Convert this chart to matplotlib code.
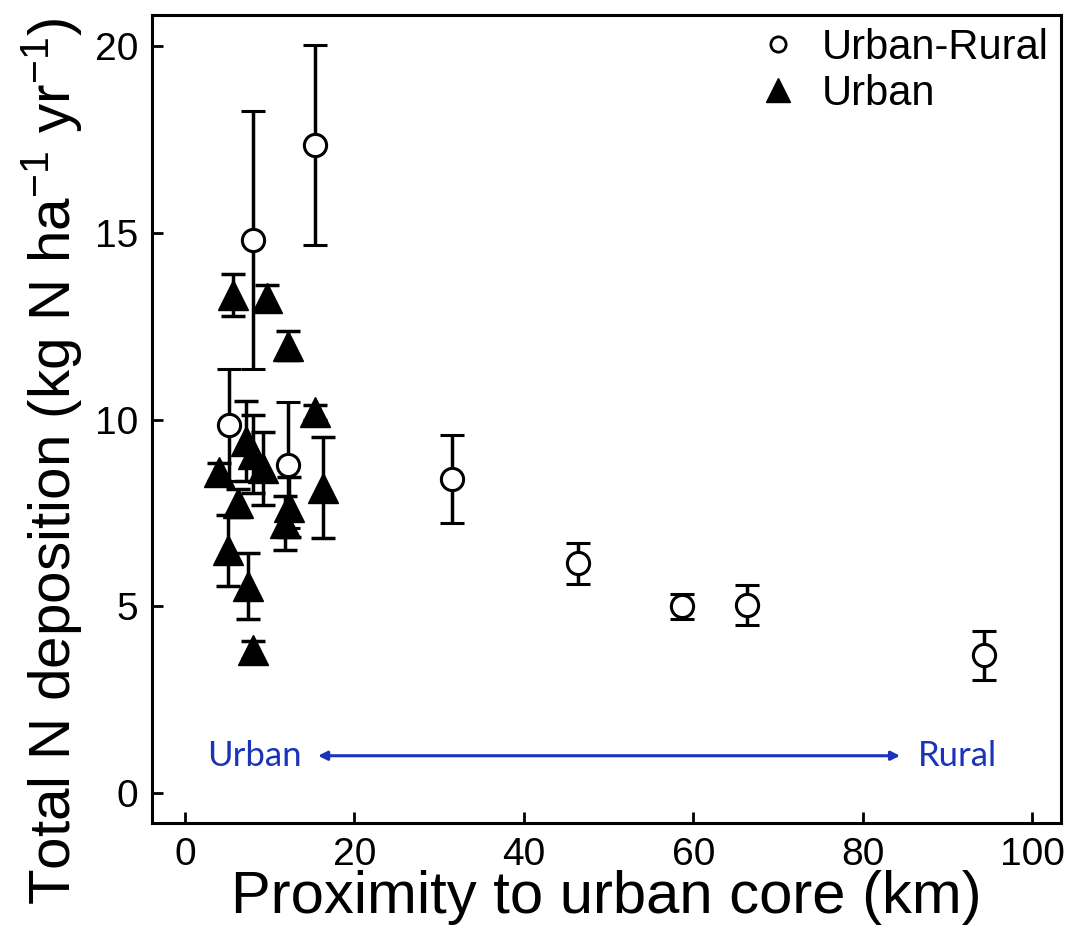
import matplotlib
matplotlib.use('Agg')
import matplotlib.pyplot as plt
from matplotlib.lines import Line2D

plt.rcParams['font.family'] = ['Liberation Sans', 'DejaVu Sans']
plt.rcParams['mathtext.fontset'] = 'custom'
plt.rcParams['mathtext.rm'] = 'Liberation Sans'
plt.rcParams['mathtext.it'] = 'Liberation Sans:italic'
plt.rcParams['mathtext.bf'] = 'Liberation Sans:bold'

# Urban-Rural sites (open circles)
ur_dist = [5.2, 8.0, 15.3, 12.2, 31.5, 46.4, 58.6, 66.3, 94.3]
ur_dep = [9.85, 14.8, 17.36, 8.78, 8.40, 6.15, 5.00, 5.03, 3.69]
ur_err = [1.50, 3.45, 2.68, 1.69, 1.18, 0.54, 0.33, 0.53, 0.65]

# Urban sites (filled triangles)
u_dist = [5.7, 9.7, 12.2, 15.3, 16.3, 4.0, 6.3, 5.1, 7.4, 8.0, 12.3, 11.8, 7.2, 8.0, 9.2]
u_dep = [13.33, 13.25, 11.98, 10.2, 8.18, 8.6, 7.76, 6.5, 5.54, 3.83, 7.66, 7.23, 9.42, 9.08, 8.69]
u_err = [0.57, 0.35, 0.39, 0.2, 1.35, 0.25, 0.38, 0.95, 0.88, 0.25, 0.8, 0.72, 1.07, 1.04, 0.98]

x_ticks = [0, 20, 40, 60, 80, 100]
y_ticks = [0, 5, 10, 15, 20]

fig = plt.figure(figsize=(10.72, 9.5), dpi=100)
ax = fig.add_axes([0.1418, 0.1337, 0.848, 0.8505])

ax.errorbar(ur_dist, ur_dep, yerr=ur_err, fmt='o', ms=16, mfc='white', mec='black',
            mew=2.2, ecolor='black', elinewidth=2.5, capsize=8.5, capthick=2.5, zorder=3)
ax.errorbar(u_dist, u_dep, yerr=u_err, fmt='^', ms=21, color='black',
            ecolor='black', elinewidth=2.5, capsize=8.5, capthick=2.5, zorder=4)

# urban -> rural gradient arrow
blue = '#1a33bb'
ax.annotate('', xy=(84.4, 1.0), xytext=(15.7, 1.0),
            arrowprops=dict(arrowstyle='<|-|>', color=blue, lw=2.2, mutation_scale=13,
                            shrinkA=0, shrinkB=0))
ax.text(2.6, 1.0, 'Urban', color=blue, fontsize=25, family=['Lato', 'DejaVu Sans'],
        ha='left', va='center')
ax.text(86.5, 1.0, 'Rural', color=blue, fontsize=25, family=['Lato', 'DejaVu Sans'],
        ha='left', va='center')

ax.set_xlim(-3.9, 103.4)
ax.set_ylim(-0.8, 20.83)
ax.set_xticks(x_ticks)
ax.set_yticks(y_ticks)
ax.tick_params(direction='in', length=8, width=2, labelsize=28, pad=10)
for sp in ax.spines.values():
    sp.set_linewidth(2.2)

ax.set_xlabel('Proximity to urban core (km)', fontsize=43, labelpad=-2)
ax.set_ylabel('Total N deposition (kg N ha$^{-1}$ yr$^{-1}$)', fontsize=42)
ax.yaxis.set_label_coords(-0.0745, -0.1015)
ax.yaxis.label.set_ha('left')

handles = [
    Line2D([], [], marker='o', ls='none', ms=11, mfc='white', mec='black', mew=2),
    Line2D([], [], marker='^', ls='none', ms=17, color='black'),
]
ax.legend(handles, ['Urban-Rural', 'Urban'], loc='upper right', frameon=False,
          fontsize=30, handlelength=1.0, handletextpad=0.55, labelspacing=0.15,
          borderpad=0.1, borderaxespad=0.2)

fig.savefig('out.png', dpi=100)
